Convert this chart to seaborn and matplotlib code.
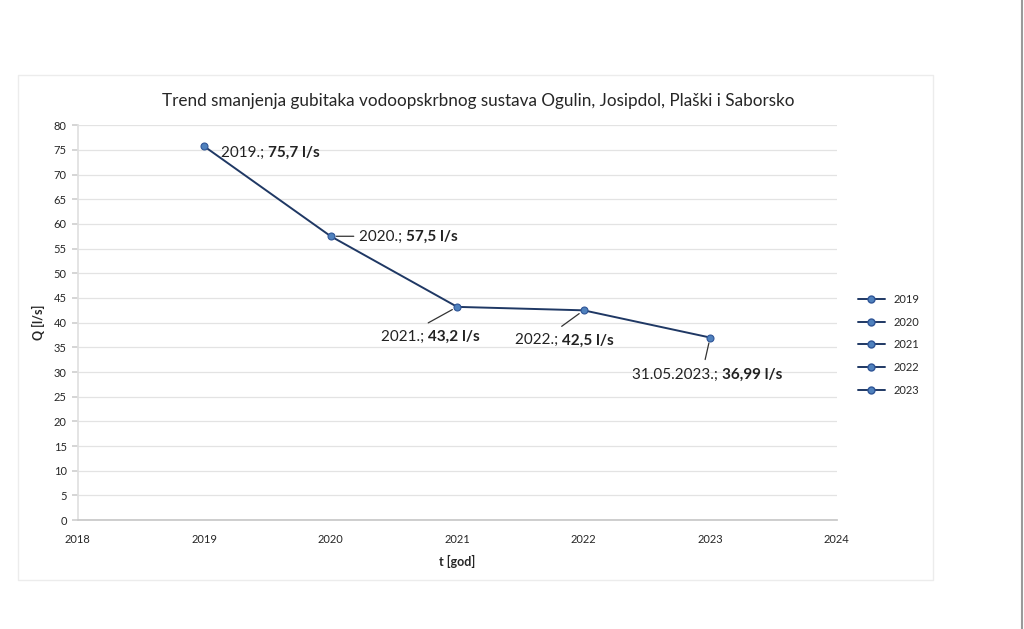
import matplotlib
matplotlib.use("Agg")
import matplotlib.pyplot as plt
import seaborn as sns
import pandas as pd
from matplotlib.lines import Line2D
from matplotlib.patches import Rectangle

# data
years = [2019, 2020, 2021, 2022, 2023]
losses = [75.7, 57.5, 43.2, 42.5, 36.99]
label_dates = ["2019.; ", "2020.; ", "2021.; ", "2022.; ", "31.05.2023.; "]
label_values = ["75,7 l/s", "57,5 l/s", "43,2 l/s", "42,5 l/s", "36,99 l/s"]
legend_names = ["2019", "2020", "2021", "2022", "2023"]

# label placement (pixel offsets from each point)
text_offsets = [(17, -6), (28, -1), (-76, -30), (-69, -30), (-78, -37)]
leader_ends = [None, (23, 0), (-29, -16), (-22, -16), (-5, -22)]

df = pd.DataFrame({"t": years, "Q": losses})

sns.set_theme(style="white")
plt.rcParams["font.family"] = ["Lato", "DejaVu Sans"]

line_col = "#1f3864"
mark_col = "#4f81bd"

fig = plt.figure(figsize=(10.24, 6.29), dpi=100)
ax = fig.add_axes([0.076, 0.173, 0.741, 0.628])

sns.lineplot(data=df, x="t", y="Q", ax=ax, color=line_col, linewidth=1.4,
             marker="o", markersize=5, markerfacecolor=mark_col,
             markeredgecolor="#2f5597", markeredgewidth=0.8)

ax.set_xlim(2018, 2024)
ax.set_ylim(0, 80)
ax.set_xticks(range(2018, 2025))
ax.set_yticks(range(0, 81, 5))
ax.yaxis.grid(True, color="#e3e3e3", linewidth=0.9)
ax.xaxis.grid(False)
for s in ["top", "right"]:
    ax.spines[s].set_visible(False)
ax.spines["left"].set_color("#e0e0e0")
ax.spines["bottom"].set_color("#c8c8c8")
ax.tick_params(axis="y", left=True, length=4, color="#d0d0d0", labelsize=8, pad=4)
ax.tick_params(axis="x", bottom=False, labelsize=8, pad=4)

ax.set_xlabel("t [god]", fontsize=9, fontweight="bold", labelpad=7)
ax.set_ylabel("Q [l/s]", fontsize=9, fontweight="bold", labelpad=6)
ax.set_title("Trend smanjenja gubitaka vodoopskrbnog sustava Ogulin, Josipdol, Plaški i Saborsko",
             fontsize=12.3, pad=14, x=0.528)

# data labels with leader lines
for x, y, d, v, off, lead in zip(years, losses, label_dates, label_values,
                                  text_offsets, leader_ends):
    t1 = ax.annotate(d, xy=(x, y), xytext=off, textcoords="offset pixels",
                     ha="left", va="center", fontsize=11, color="#222222")
    ax.annotate(v, xy=(1, 0), xycoords=t1, ha="left", va="bottom",
                fontsize=11, fontweight="bold", color="#222222")
    if lead is not None:
        ax.annotate("", xy=(x, y), xytext=lead, textcoords="offset pixels",
                    arrowprops=dict(arrowstyle="-", color="#333333", lw=0.9,
                                    shrinkA=0, shrinkB=4))

handles = [Line2D([0], [0], color=line_col, lw=1.4, marker="o", markersize=5,
                  markerfacecolor=mark_col, markeredgecolor="#2f5597")
           for _ in legend_names]
fig.legend(handles, legend_names, loc="center left", bbox_to_anchor=(0.828, 0.452),
           frameon=False, fontsize=8, handlelength=2.4, labelspacing=1.05)

# chart area frame and page edge
fig.patches.append(Rectangle((0.018, 0.078), 0.893, 0.803, transform=fig.transFigure,
                             fill=False, edgecolor="#ececec", linewidth=1.0))
fig.add_artist(Line2D([0.998, 0.998], [0, 1], transform=fig.transFigure,
                      color="#9a9a9a", linewidth=1.5))

fig.savefig("out.png", dpi=100)
